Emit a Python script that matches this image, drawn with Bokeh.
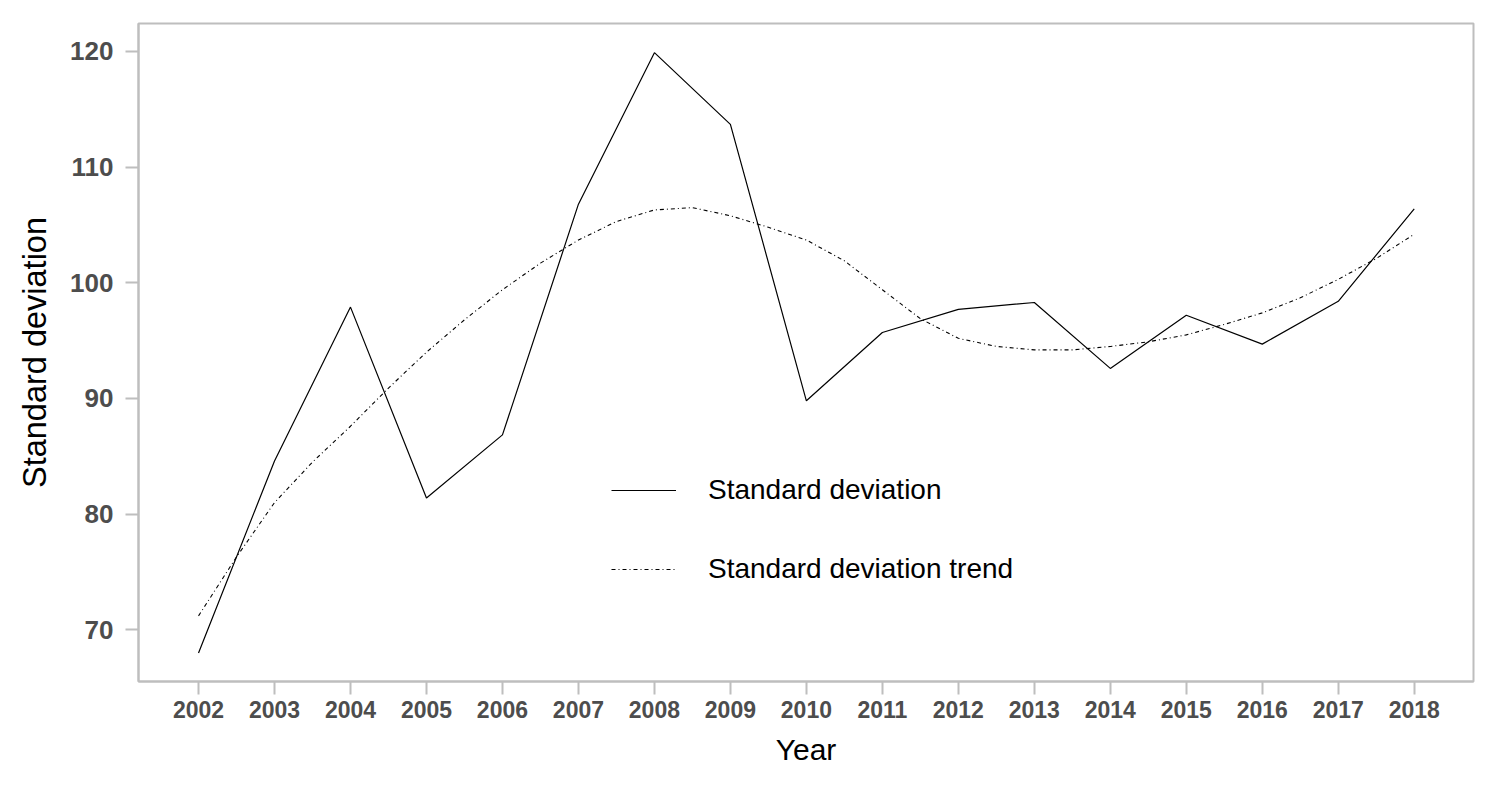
from bokeh.plotting import figure
from bokeh.models import Range1d, FixedTicker, Legend, LegendItem
from bokeh.embed import file_html
from bokeh.resources import INLINE

years = [2002, 2003, 2004, 2005, 2006, 2007, 2008, 2009, 2010,
         2011, 2012, 2013, 2014, 2015, 2016, 2017, 2018]
std_dev = [68.0, 84.6, 97.9, 81.4, 86.85, 106.8, 119.9, 113.7, 89.8,
           95.7, 97.7, 98.3, 92.6, 97.2, 94.7, 98.4, 106.4]

trend_x = [2002.0, 2002.5, 2003.0, 2003.5, 2004.0, 2004.5, 2005.0, 2005.5,
           2006.0, 2006.5, 2007.0, 2007.5, 2008.0, 2008.5, 2009.0, 2009.5,
           2010.0, 2010.5, 2011.0, 2011.5, 2012.0, 2012.5, 2013.0, 2013.5,
           2014.0, 2014.5, 2015.0, 2015.5, 2016.0, 2016.5, 2017.0, 2017.5,
           2018.0]
trend_y = [71.2, 76.3, 81.0, 84.5, 87.6, 90.9, 94.0, 96.8,
           99.4, 101.7, 103.7, 105.3, 106.3, 106.5, 105.8, 104.8,
           103.7, 101.9, 99.4, 96.9, 95.2, 94.5, 94.2, 94.2,
           94.5, 94.9, 95.5, 96.4, 97.4, 98.7, 100.3, 102.1,
           104.2]

y_ticks = [70, 80, 90, 100, 110, 120]

GRAY = "#bebebe"
TICK_TXT = "#4d4d4d"
FONT = "Liberation Sans"

p = figure(width=1490, height=790, output_backend="svg", toolbar_location=None,
           x_range=Range1d(2001.21, 2018.78), y_range=Range1d(65.53, 122.42),
           min_border_left=138, min_border_right=17, min_border_top=23,
           min_border_bottom=109)

p.xgrid.visible = False
p.ygrid.visible = False
p.outline_line_color = GRAY
p.outline_line_width = 2
p.background_fill_color = "white"
p.border_fill_color = "white"

for ax in (p.xaxis[0], p.yaxis[0]):
    ax.axis_line_color = GRAY
    ax.axis_line_width = 2
    ax.major_tick_line_color = GRAY
    ax.major_tick_line_width = 2
    ax.major_tick_out = 13
    ax.major_tick_in = 0
    ax.minor_tick_line_color = None
    ax.major_label_text_color = TICK_TXT
    ax.major_label_text_font = FONT
    ax.major_label_text_font_style = "bold"
    ax.axis_label_text_font = FONT
    ax.axis_label_text_font_style = "normal"
    ax.axis_label_text_color = "black"

p.xaxis.ticker = FixedTicker(ticks=years)
p.yaxis.ticker = FixedTicker(ticks=y_ticks)
p.xaxis.major_label_text_font_size = "23px"
p.yaxis.major_label_text_font_size = "26px"
p.xaxis.major_label_standoff = 6
p.yaxis.major_label_standoff = 12
p.xaxis.axis_label = "Year"
p.yaxis.axis_label = "Standard deviation"
p.xaxis.axis_label_text_font_size = "30px"
p.yaxis.axis_label_text_font_size = "32.5px"
p.xaxis.axis_label_standoff = 12
p.yaxis.axis_label_standoff = 14

r1 = p.line(years, std_dev, line_color="black", line_width=1.2)
r2 = p.line(trend_x, trend_y, line_color="black", line_width=1.1,
            line_dash="4 3 1 3")

legend = Legend(items=[LegendItem(label="Standard deviation", renderers=[r1]),
                       LegendItem(label="Standard deviation trend", renderers=[r2])],
                location=(473, 96), orientation="vertical")
legend.border_line_color = None
legend.background_fill_alpha = 0
legend.padding = 0
legend.margin = 0
legend.glyph_width = 65
legend.glyph_height = 32
legend.label_height = 32
legend.spacing = 47
legend.label_standoff = 32
legend.label_text_font = FONT
legend.label_text_font_size = "28px"
legend.label_text_color = "black"
p.add_layout(legend, "center")

open("out.html", "w").write(file_html(p, INLINE))
